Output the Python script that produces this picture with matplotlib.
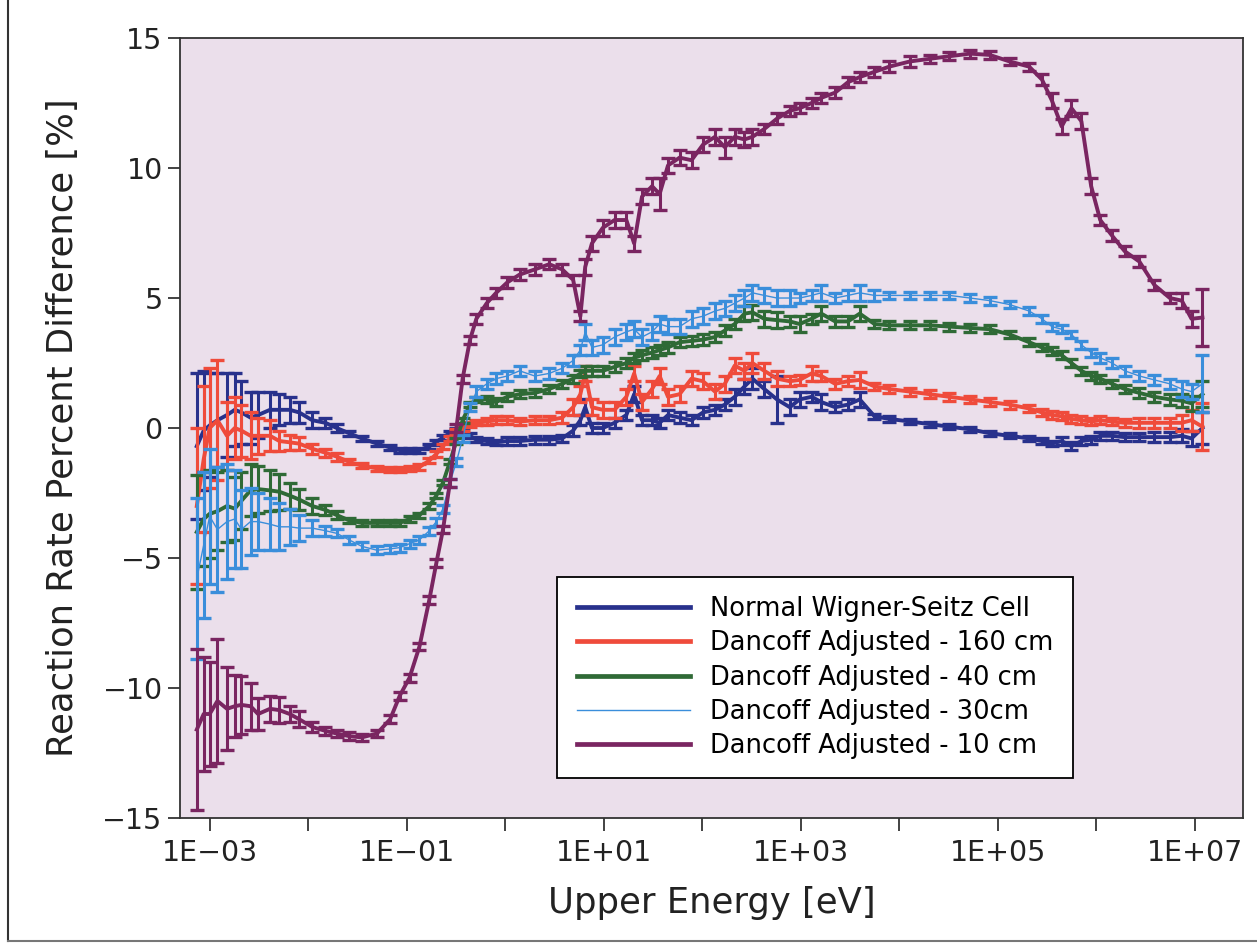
import math
import matplotlib
matplotlib.use("Agg")
import matplotlib.pyplot as plt
from matplotlib.lines import Line2D
from matplotlib.ticker import FixedLocator, FuncFormatter, NullLocator

# group upper energies [eV]
energy = [
    7.4e-4, 8.7e-4, 1.0e-3, 1.2e-3, 1.5e-3, 1.8e-3, 2.1e-3, 2.6e-3, 3.1e-3, 4.1e-3,
    5.1e-3, 6.5e-3, 8.1e-3, 1.1e-2, 1.5e-2, 1.95e-2, 2.6e-2, 3.5e-2, 5.0e-2, 6.8e-2,
    8.5e-2, 0.107, 0.135, 0.17, 0.20, 0.234, 0.275, 0.32, 0.37, 0.44,
    0.51, 0.65, 0.81, 1.05, 1.4, 2.0, 2.8, 3.8, 4.9, 5.8,
    6.5, 7.6, 9.8, 12.9, 17.0, 20.4, 24.5, 31, 37, 45,
    59, 78, 102, 135, 170, 214, 269, 324, 427, 575,
    776, 977, 1290, 1620, 2240, 3020, 3980, 5620, 7940, 1.29e4,
    2.04e4, 3.24e4, 5.25e4, 8.3e4, 1.32e5, 2.09e5, 2.82e5, 3.55e5, 4.47e5, 5.62e5,
    7.08e5, 8.9e5, 1.1e6, 1.45e6, 1.95e6, 2.75e6, 3.9e6, 5.6e6, 7.4e6, 9.3e6,
    1.2e7]

normal_ws = [
    -0.7, -0.1, 0.1, 0.3, 0.5, 0.7, 0.6, 0.4, 0.5, 0.7,
    0.7, 0.7, 0.6, 0.3, 0.2, 0.0, -0.2, -0.4, -0.6, -0.75,
    -0.85, -0.85, -0.85, -0.7, -0.55, -0.35, -0.2, -0.1, -0.1, -0.3,
    -0.45, -0.5, -0.55, -0.5, -0.5, -0.45, -0.45, -0.4, -0.1, 0.3,
    0.8, 0.0, 0.0, 0.2, 0.5, 1.3, 0.3, 0.3, 0.2, 0.5,
    0.4, 0.3, 0.6, 0.7, 0.9, 1.2, 1.6, 1.9, 1.5, 1.1,
    0.8, 1.1, 1.2, 1.0, 0.8, 0.9, 1.1, 0.45, 0.35, 0.25,
    0.15, 0.05, -0.05, -0.2, -0.3, -0.4, -0.5, -0.6, -0.5, -0.7,
    -0.5, -0.45, -0.3, -0.3, -0.35, -0.35, -0.35, -0.35, -0.3, -0.4,
    0.0]
normal_ws_err = [
    2.8, 2.3, 2.0, 1.8, 1.6, 1.4, 1.2, 1.0, 0.9, 0.7,
    0.6, 0.5, 0.4, 0.3, 0.2, 0.15, 0.1, 0.1, 0.1, 0.1,
    0.1, 0.1, 0.1, 0.1, 0.1, 0.1, 0.1, 0.1, 0.1, 0.1,
    0.1, 0.1, 0.1, 0.15, 0.15, 0.15, 0.15, 0.15, 0.2, 0.2,
    0.3, 0.2, 0.2, 0.2, 0.2, 0.3, 0.2, 0.2, 0.2, 0.2,
    0.2, 0.2, 0.2, 0.2, 0.2, 0.3, 0.3, 0.4, 0.3, 0.9,
    0.3, 0.3, 0.2, 0.3, 0.2, 0.2, 0.3, 0.1, 0.1, 0.1,
    0.1, 0.1, 0.1, 0.1, 0.1, 0.1, 0.1, 0.1, 0.15, 0.15,
    0.15, 0.15, 0.15, 0.15, 0.15, 0.15, 0.2, 0.2, 0.25, 0.3,
    0.6]

dancoff_160 = [
    -3.0, -1.2, 0.0, 0.3, -0.3, 0.0, -0.1, -0.3, -0.3, -0.3,
    -0.5, -0.55, -0.6, -0.8, -0.95, -1.1, -1.3, -1.45, -1.55, -1.6,
    -1.6, -1.55, -1.5, -1.25, -1.0, -0.7, -0.4, -0.15, 0.0, 0.15,
    0.2, 0.25, 0.3, 0.3, 0.25, 0.3, 0.3, 0.4, 0.8, 1.3,
    2.1, 0.8, 0.7, 0.7, 1.2, 2.1, 1.0, 1.5, 2.0, 1.2,
    1.3, 1.9, 1.8, 1.4, 1.7, 2.4, 2.2, 2.5, 2.2, 1.9,
    1.8, 1.85, 2.1, 2.0, 1.7, 1.8, 1.85, 1.6, 1.5, 1.4,
    1.3, 1.2, 1.1, 1.0, 0.9, 0.75, 0.6, 0.5, 0.45, 0.35,
    0.3, 0.25, 0.3, 0.25, 0.2, 0.2, 0.2, 0.2, 0.2, 0.3,
    0.05]
dancoff_160_err = [
    3.0, 2.8, 2.3, 2.3, 1.3, 1.2, 1.0, 0.9, 0.7, 0.6,
    0.4, 0.3, 0.25, 0.2, 0.15, 0.15, 0.1, 0.1, 0.1, 0.1,
    0.1, 0.1, 0.1, 0.1, 0.1, 0.1, 0.1, 0.1, 0.1, 0.1,
    0.1, 0.15, 0.15, 0.15, 0.15, 0.15, 0.15, 0.2, 0.3, 0.3,
    0.3, 0.3, 0.3, 0.3, 0.3, 0.3, 0.3, 0.3, 0.3, 0.3,
    0.3, 0.3, 0.3, 0.3, 0.3, 0.3, 0.3, 0.4, 0.3, 0.3,
    0.2, 0.2, 0.3, 0.2, 0.2, 0.2, 0.3, 0.15, 0.15, 0.15,
    0.15, 0.15, 0.15, 0.15, 0.15, 0.15, 0.15, 0.15, 0.15, 0.15,
    0.15, 0.15, 0.15, 0.15, 0.15, 0.2, 0.2, 0.2, 0.3, 0.4,
    0.9]

dancoff_40 = [
    -4.0, -3.5, -3.3, -3.2, -3.0, -3.1, -2.8, -2.4, -2.35, -2.4,
    -2.45, -2.6, -2.75, -3.0, -3.15, -3.35, -3.55, -3.65, -3.65, -3.65,
    -3.65, -3.5, -3.35, -3.0, -2.6, -2.1, -1.3, -0.5, 0.3, 0.9,
    1.1, 1.1, 1.0, 1.2, 1.3, 1.35, 1.5, 1.7, 1.9, 2.1,
    2.2, 2.2, 2.2, 2.35, 2.5, 2.7, 2.8, 2.9, 3.0, 3.1,
    3.3, 3.35, 3.4, 3.5, 3.75, 4.0, 4.4, 4.45, 4.2, 4.15,
    4.1, 4.0, 4.2, 4.4, 4.1, 4.1, 4.4, 4.0, 3.95, 3.95,
    3.95, 3.9, 3.85, 3.8, 3.6, 3.3, 3.1, 2.95, 2.8, 2.5,
    2.2, 2.0, 1.9, 1.7, 1.5, 1.35, 1.2, 1.1, 1.05, 0.95,
    1.3]
dancoff_40_err = [
    2.2, 1.8, 1.7, 1.5, 1.4, 1.2, 1.1, 1.0, 0.9, 0.8,
    0.7, 0.5, 0.4, 0.3, 0.2, 0.15, 0.1, 0.1, 0.1, 0.1,
    0.1, 0.1, 0.1, 0.1, 0.1, 0.1, 0.1, 0.1, 0.1, 0.1,
    0.1, 0.15, 0.15, 0.15, 0.15, 0.15, 0.15, 0.15, 0.15, 0.15,
    0.2, 0.2, 0.2, 0.2, 0.2, 0.2, 0.2, 0.2, 0.2, 0.2,
    0.2, 0.2, 0.2, 0.2, 0.2, 0.2, 0.3, 0.3, 0.3, 0.3,
    0.2, 0.3, 0.2, 0.3, 0.2, 0.2, 0.3, 0.15, 0.15, 0.15,
    0.15, 0.15, 0.15, 0.15, 0.15, 0.15, 0.15, 0.15, 0.15, 0.15,
    0.15, 0.15, 0.15, 0.15, 0.15, 0.2, 0.2, 0.2, 0.25, 0.3,
    0.5]

dancoff_30 = [
    -5.8, -4.5, -3.4, -3.9, -3.6, -3.5, -3.9, -3.6, -3.6, -3.7,
    -3.8, -3.8, -3.85, -3.85, -3.95, -4.05, -4.3, -4.55, -4.7, -4.65,
    -4.6, -4.45, -4.3, -3.95, -3.6, -3.1, -2.1, -1.3, -0.4, 0.8,
    1.4, 1.7, 1.9, 2.0, 2.2, 2.0, 2.1, 2.3, 2.6, 3.0,
    3.7, 3.1, 3.2, 3.5, 3.7, 3.8, 3.5, 3.7, 4.0, 3.9,
    3.9, 4.2, 4.3, 4.5, 4.6, 4.8, 5.0, 5.2, 5.1, 5.0,
    5.0, 5.0, 5.1, 5.2, 5.0, 5.1, 5.2, 5.1, 5.1, 5.1,
    5.1, 5.1, 5.0, 4.9, 4.75, 4.5, 4.2, 3.9, 3.8, 3.6,
    3.2, 2.9, 2.7, 2.5, 2.2, 2.0, 1.85, 1.7, 1.5, 1.4,
    1.7]
dancoff_30_err = [
    3.1, 2.8, 2.6, 2.4, 2.2, 1.9, 1.5, 1.3, 1.1, 1.0,
    0.9, 0.7, 0.5, 0.3, 0.2, 0.15, 0.15, 0.15, 0.15, 0.15,
    0.15, 0.15, 0.15, 0.15, 0.15, 0.15, 0.15, 0.15, 0.15, 0.15,
    0.2, 0.2, 0.2, 0.2, 0.2, 0.2, 0.2, 0.2, 0.2, 0.2,
    0.3, 0.3, 0.3, 0.3, 0.3, 0.3, 0.3, 0.3, 0.3, 0.3,
    0.3, 0.3, 0.3, 0.3, 0.3, 0.3, 0.3, 0.3, 0.3, 0.3,
    0.3, 0.2, 0.2, 0.3, 0.2, 0.2, 0.3, 0.2, 0.15, 0.15,
    0.15, 0.15, 0.15, 0.15, 0.15, 0.15, 0.15, 0.15, 0.15, 0.15,
    0.15, 0.15, 0.2, 0.2, 0.2, 0.2, 0.2, 0.2, 0.3, 0.3,
    1.1]

dancoff_10 = [
    -11.6, -11.0, -11.0, -10.5, -10.8, -10.7, -10.65, -10.7, -11.0, -10.8,
    -10.85, -11.0, -11.2, -11.5, -11.65, -11.75, -11.85, -11.9, -11.75, -11.2,
    -10.3, -9.6, -8.4, -6.6, -5.2, -3.9, -2.1, 0.0, 1.9, 3.4,
    4.2, 4.8, 5.2, 5.6, 5.9, 6.1, 6.3, 6.1, 5.7, 4.3,
    6.2, 7.1, 7.7, 8.0, 8.0, 7.1, 8.9, 9.3, 9.0, 10.1,
    10.4, 10.3, 10.9, 11.2, 10.8, 11.2, 11.1, 11.2, 11.5, 11.9,
    12.2, 12.3, 12.5, 12.7, 12.9, 13.3, 13.5, 13.7, 13.9, 14.1,
    14.2, 14.3, 14.4, 14.35, 14.1, 13.9, 13.4, 12.6, 11.6, 12.3,
    11.8, 9.3, 8.0, 7.4, 6.8, 6.4, 5.5, 5.0, 4.9, 4.2,
    4.25]
dancoff_10_err = [
    3.1, 2.2, 2.0, 2.4, 1.6, 1.2, 1.1, 0.9, 0.6, 0.5,
    0.5, 0.3, 0.3, 0.2, 0.15, 0.15, 0.15, 0.15, 0.15, 0.15,
    0.15, 0.15, 0.15, 0.15, 0.15, 0.15, 0.15, 0.15, 0.15, 0.15,
    0.2, 0.2, 0.2, 0.2, 0.2, 0.2, 0.2, 0.2, 0.2, 0.2,
    0.3, 0.3, 0.3, 0.3, 0.3, 0.3, 0.3, 0.3, 0.6, 0.3,
    0.3, 0.3, 0.3, 0.3, 0.4, 0.3, 0.3, 0.3, 0.2, 0.2,
    0.2, 0.2, 0.2, 0.2, 0.2, 0.2, 0.2, 0.2, 0.2, 0.2,
    0.15, 0.15, 0.15, 0.15, 0.15, 0.15, 0.2, 0.3, 0.3, 0.3,
    0.3, 0.3, 0.2, 0.2, 0.2, 0.2, 0.2, 0.2, 0.3, 0.3,
    1.1]

series = [
    ("Normal Wigner-Seitz Cell", normal_ws, normal_ws_err, "#28318c", 2.8),
    ("Dancoff Adjusted - 160 cm", dancoff_160, dancoff_160_err, "#ef4b3b", 2.8),
    ("Dancoff Adjusted - 40 cm", dancoff_40, dancoff_40_err, "#2f6a36", 2.8),
    ("Dancoff Adjusted - 30cm", dancoff_30, dancoff_30_err, "#3a8edb", 1.0),
    ("Dancoff Adjusted - 10 cm", dancoff_10, dancoff_10_err, "#7a2561", 2.8),
]

fig = plt.figure(figsize=(12.57, 9.46), dpi=100)
ax = fig.add_axes([0.1432, 0.1353, 0.8457, 0.8245])
ax.set_facecolor("#ebdfeb")

for i, (label, vals, errs, color, lw) in enumerate(series):
    ax.errorbar(energy, vals, yerr=errs, color=color, lw=lw, elinewidth=2.2,
                capsize=5, capthick=2.4, label=label, zorder=3 + i)

ax.set_xscale("log")
ax.set_xlim(5.0e-4, 3.1e7)
ax.set_ylim(-15, 15)

decades = [10.0 ** k for k in range(-3, 8)]
ax.xaxis.set_major_locator(FixedLocator(decades))
ax.xaxis.set_minor_locator(NullLocator())


def fmt_energy(v, pos):
    k = int(round(math.log10(v)))
    if k % 2 == 0:
        return ""
    sign = "+" if k >= 0 else "\u2212"
    return "1E%s%02d" % (sign, abs(k))


ax.xaxis.set_major_formatter(FuncFormatter(fmt_energy))
ax.set_yticks([-15, -10, -5, 0, 5, 10, 15])
ax.tick_params(axis="both", direction="out", length=9, width=1.2,
               labelsize=20.5, top=False, right=False, colors="#222222")
ax.tick_params(axis="x", pad=6)
for sp in ax.spines.values():
    sp.set_linewidth(1.3)
    sp.set_color("#333333")

ax.set_xlabel("Upper Energy [eV]", fontsize=25.5, labelpad=14, color="#222222")
ax.set_ylabel("Reaction Rate Percent Difference [%]", fontsize=25.5,
              labelpad=16, color="#222222")

handles = [Line2D([], [], color=c, lw=(3.4 if lw > 2 else 1.0))
           for _, _, _, c, lw in series]
labels = [s[0] for s in series]
leg = ax.legend(handles, labels, loc="upper left", bbox_to_anchor=(0.355, 0.309),
                borderaxespad=0, fontsize=18.5, handlelength=4.4, handletextpad=0.8,
                fancybox=False, framealpha=1.0, edgecolor="black",
                labelspacing=0.32, borderpad=0.75)
leg.get_frame().set_linewidth(1.3)
leg.set_zorder(10)

# scanned page border
fig.add_artist(Line2D([0.006, 0.006], [0.005, 1.0], color="#333333", lw=1.5))
fig.add_artist(Line2D([0.006, 1.0], [0.005, 0.005], color="#777777", lw=1.5))

fig.savefig("out.png", dpi=100)
